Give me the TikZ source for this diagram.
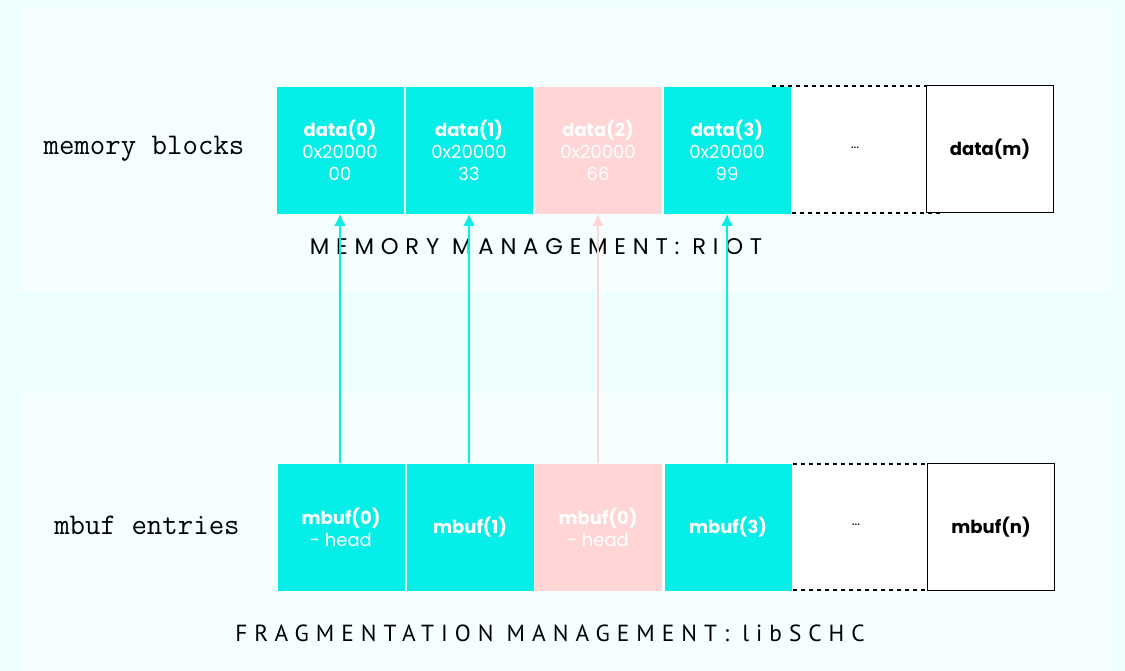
\documentclass[tikz,border=0pt]{standalone}
\usepackage{fontspec}
\setmainfont{Poppins}
\newfontfamily\riotfont[LetterSpace=30]{Poppins}
\newfontfamily\schcfont[LetterSpace=30]{PT Sans}
\usetikzlibrary{positioning, arrows.meta}
\definecolor{bgcol}{HTML}{EDFFFF}
\definecolor{panelcol}{HTML}{F6FFFF}
\definecolor{usedcol}{HTML}{05EEE8}
\definecolor{freecol}{HTML}{FFD5D5}

\begin{document}
\begin{tikzpicture}[x=0.75pt, y=-0.75pt,
    blk/.style={minimum width=95.25pt, minimum height=95.25pt, inner sep=0pt,
        align=center, text=white, font=\fontsize{13.5}{16.5}\selectfont},
    used/.style={blk, fill=usedcol},
    freed/.style={blk, fill=freecol},
    lastblk/.style={blk, draw=black, line width=0.9pt, fill=white, text=black},
    link/.style={line width=1.8pt, -{Latex[length=9pt,width=9pt]}},
    rowlabel/.style={font=\ttfamily\fontsize{22.5}{26}\selectfont},
    dashes/.style={dashed, line width=0.9pt}]
    \useasboundingbox (0,0) rectangle (1125,671);
    \fill[bgcol] (0,0) rectangle (1125,671);
    \fill[panelcol, rounded corners=4pt] (19,7) rectangle (1113,292);
    \fill[panelcol, rounded corners=4pt] (19,393) rectangle (1113,680);

    % memory blocks
    \node[rowlabel] (memlabel) at (144,149) {memory blocks};
    \node[used] (d0) at (340,150) {\textbf{data(0)}\\0x20000\\00};
    \node[used] (d1) at (469,150) {\textbf{data(1)}\\0x20000\\33};
    \node[freed] (d2) at (598,150) {\textbf{data(2)}\\0x20000\\66};
    \node[used] (d3) at (727,150) {\textbf{data(3)}\\0x20000\\99};
    \fill[white] (792,86) rectangle (926,213);
    \draw[dashes] (772,86) -- (940,86);
    \draw[dashes] (792,213) -- (940,213);
    \node (ddots) at (855,148) {...};
    \node[lastblk] (dm) at (990,149) {\textbf{data(m)}};
    \node[font=\riotfont\fontsize{17}{20}\selectfont] (riot) at (536,247) {MEMORY MANAGEMENT: RIOT};

    % mbuf entries
    \node[rowlabel] (mbuflabel) at (147,525) {mbuf entries};
    \node[used] (m0) at (341,527) {\textbf{mbuf(0)}\\- head};
    \node[used] (m1) at (470,527) {\textbf{mbuf(1)}};
    \node[freed] (m2) at (598,527) {\textbf{mbuf(0)}\\- head};
    \node[used] (m3) at (728,527) {\textbf{mbuf(3)}};
    \fill[white] (793,464) rectangle (927,590);
    \draw[dashes] (793,464) -- (940,464);
    \draw[dashes] (793,590) -- (940,590);
    \node (mdots) at (856,525) {...};
    \node[lastblk] (mn) at (991,527) {\textbf{mbuf(n)}};
    \node[font=\schcfont\fontsize{17.5}{20}\selectfont] (schc) at (550,633) {FRAGMENTATION MANAGEMENT: libSCHC};

    % links
    \draw[link, usedcol] (m0.north -| d0) -- (d0.south);
    \draw[link, usedcol] (m1.north -| d1) -- (d1.south);
    \draw[link, freecol] (m2.north) -- (d2.south);
    \draw[link, usedcol] (m3.north -| d3) -- (d3.south);
\end{tikzpicture}
\end{document}
